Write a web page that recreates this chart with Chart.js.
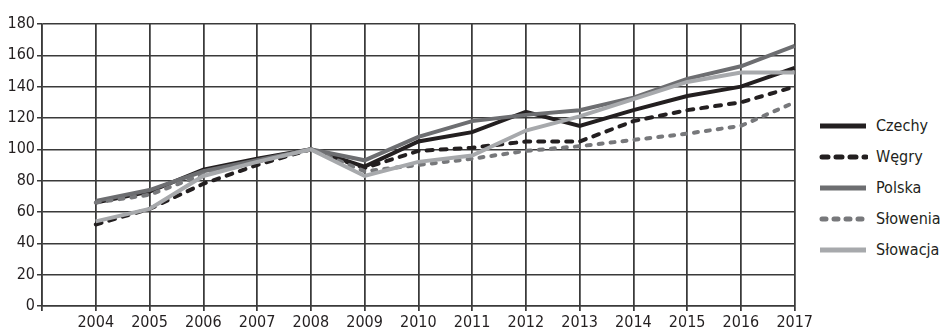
<!DOCTYPE html>
<html>
<head>
<meta charset="utf-8">
<script src="https://cdn.jsdelivr.net/npm/chart.js@4.4.1/dist/chart.umd.min.js"></script>
<style>
  html, body { margin: 0; padding: 0; background: #fff; }
  #wrap { position: relative; width: 944px; height: 327px; overflow: hidden; }
  #chartBox { position: absolute; left: 0; top: 0; width: 815px; height: 327px; }
  #legend { position: absolute; left: 818px; top: 110px; font-family: "Liberation Sans Narrow", "DejaVu Sans Condensed", sans-serif; font-size: 16px; color: #231f20; }
  .item { display: flex; align-items: center; height: 31px; }
  .item svg { margin-right: 8px; }
</style>
</head>
<body>
<div id="wrap">
  <div id="chartBox"><canvas id="c"></canvas></div>
  <div id="legend"></div>
</div>
<script>
// Index values (2008 = 100)
const years    = ['2004', '2005', '2006', '2007', '2008', '2009', '2010', '2011', '2012', '2013', '2014', '2015', '2016', '2017'];
const czechy   = [66, 73, 87, 94, 100, 89, 105, 111, 124, 115, 125, 134, 140, 152];
const wegry    = [52, 62, 78, 90, 100, 88, 99, 101, 105, 105, 118, 125, 130, 140];
const polska   = [67, 74, 86, 93, 100, 93, 108, 118, 122, 125, 133, 145, 153, 166];
const slowenia = [66, 71, 84, 92, 100, 86, 90, 94, 99, 102, 106, 110, 115, 130];
const slowacja = [54, 62, 83, 92, 100, 83, 92, 96, 112, 121, 132, 143, 149, 149];
const yTicks   = [0, 20, 40, 60, 80, 100, 120, 140, 160, 180];

const FONT = '"Liberation Sans Narrow", "DejaVu Sans Condensed", sans-serif';
const INK = '#231f20';
const GRID = '#3a3a3a';
const GRID_W = 1.5;
const TICK_LEN = 5;

const series = [
  { label: 'Czechy',   data: czechy,   color: '#231f20', dash: [],     order: 5 },
  { label: 'Węgry',    data: wegry,    color: '#231f20', dash: [6, 8], order: 4 },
  { label: 'Polska',   data: polska,   color: '#6d6e71', dash: [],     order: 3 },
  { label: 'Słowenia', data: slowenia, color: '#77787b', dash: [4, 8], order: 2 },
  { label: 'Słowacja', data: slowacja, color: '#a7a9ac', dash: [],     order: 1 }
];

// An empty leading category leaves one column of space before the first year
const labels = [''].concat(years);

const datasets = series.map(s => ({
  label: s.label,
  data: [null].concat(s.data),
  borderColor: s.color,
  backgroundColor: s.color,
  borderWidth: 4,
  borderDash: s.dash,
  borderCapStyle: s.dash.length ? 'round' : 'butt',
  borderJoinStyle: 'miter',
  pointRadius: 0,
  tension: 0,
  order: s.order
}));

// Vertical year lines and the tick marks under the x axis, placed by the x scale
const yearLines = {
  id: 'yearLines',
  beforeDatasetsDraw(chart) {
    const { ctx, chartArea, scales: { x } } = chart;
    ctx.save();
    ctx.strokeStyle = GRID;
    ctx.lineWidth = GRID_W;
    ctx.setLineDash([]);
    x.ticks.forEach((t, i) => {
      const px = Math.round(x.getPixelForTick(i) - GRID_W / 2) + GRID_W / 2;
      ctx.beginPath();
      ctx.moveTo(px, chartArea.top);
      ctx.lineTo(px, chartArea.bottom + TICK_LEN);
      ctx.stroke();
    });
    ctx.restore();
  }
};

new Chart(document.getElementById('c'), {
  type: 'line',
  data: { labels, datasets },
  plugins: [yearLines],
  options: {
    responsive: true,
    maintainAspectRatio: false,
    animation: false,
    layout: { padding: { top: 24, right: 16, left: 0, bottom: 0 } },
    plugins: { legend: { display: false }, tooltip: { enabled: false } },
    scales: {
      x: {
        type: 'category',
        offset: false,
        ticks: {
          color: INK,
          font: { family: FONT, size: 16 },
          padding: 2,
          maxRotation: 0,
          autoSkip: false
        },
        grid: { color: GRID, lineWidth: GRID_W, tickLength: TICK_LEN, offset: false },
        border: { color: GRID, width: GRID_W },
        afterFit: axis => { axis.height = 21; }
      },
      y: {
        min: 0,
        max: 180,
        afterBuildTicks: axis => { axis.ticks = yTicks.map(v => ({ value: v })); },
        ticks: {
          color: INK,
          font: { family: FONT, size: 16 },
          padding: 2
        },
        grid: { color: GRID, lineWidth: GRID_W, tickLength: TICK_LEN },
        border: { color: GRID, width: GRID_W },
        afterFit: axis => { axis.width = 42; }
      }
    }
  }
});

// Legend with line samples matching each series
const legend = document.getElementById('legend');
series.forEach(s => {
  const row = document.createElement('div');
  row.className = 'item';
  const dash = s.dash.length ? `stroke-dasharray="${s.dash.join(' ')}" stroke-linecap="round"` : 'stroke-linecap="butt"';
  const x1 = s.dash.length ? 4 : 2;
  row.innerHTML = `<svg width="50" height="10"><line x1="${x1}" y1="5" x2="48" y2="5" stroke="${s.color}" stroke-width="5" ${dash}/></svg><span>${s.label}</span>`;
  legend.appendChild(row);
});
</script>
</body>
</html>
